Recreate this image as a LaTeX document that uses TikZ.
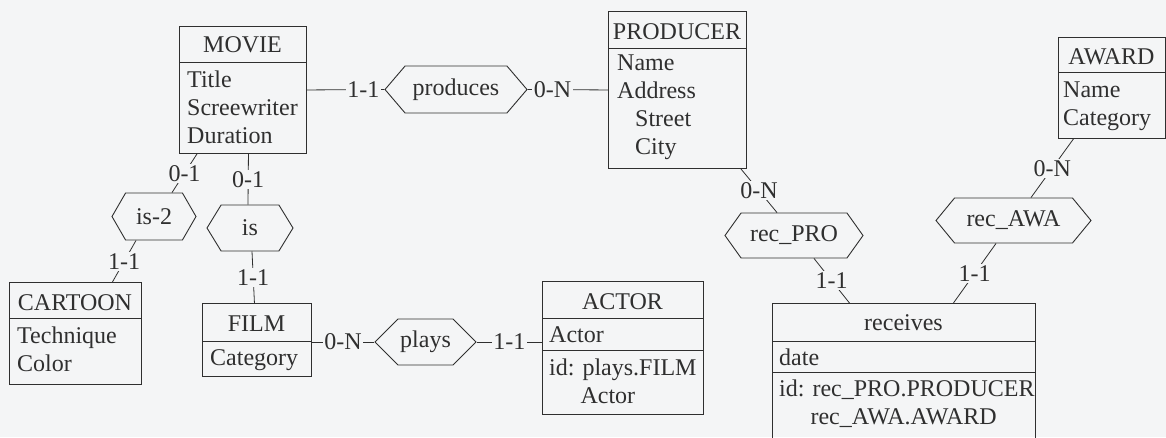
\documentclass[tikz,border=0pt]{standalone}
\usepackage{fontspec}
\setmainfont{Liberation Serif}
\usetikzlibrary{shapes.symbols}
\definecolor{ink}{HTML}{2F2F2F}
\definecolor{paper}{HTML}{F4F5F6}
\tikzset{
  entity/.style={draw=ink,line width=.9pt,anchor=north west,inner sep=0pt},
  rel/.style={draw=ink,text=ink,line width=.9pt,signal,signal to=west and east,inner sep=0pt},
  head/.style={text=ink,text height=16pt,text depth=0pt,inner sep=0pt},
  attr/.style={text=ink,align=left,anchor=north west,inner sep=0pt},
  link/.style={draw=ink,line width=.8pt},
  mult/.style={fill=paper,text=ink,inner sep=1.5pt},
}
\begin{document}
\begin{tikzpicture}[x=1pt,y=-1pt,font=\fontsize{24}{28}\selectfont]
  \useasboundingbox (0,0) rectangle (1166,437);
  \clip (0,0) rectangle (1166,437);
  \fill[paper] (0,0) rectangle (1166,437);

  % entity boxes
  \node[entity,minimum width=127pt,minimum height=127pt] (movie) at (179,26) {};
  \node[entity,minimum width=138pt,minimum height=157pt] (producer) at (608,11) {};
  \node[entity,minimum width=107pt,minimum height=101pt] (award) at (1058,37) {};
  \node[entity,minimum width=132pt,minimum height=102pt] (cartoon) at (9,282) {};
  \node[entity,minimum width=109pt,minimum height=73pt] (film) at (202,303) {};
  \node[entity,minimum width=161pt,minimum height=133pt] (actor) at (542,281) {};
  \node[entity,minimum width=263pt,minimum height=150pt] (receives) at (772,303) {};
  \foreach \e/\d in {movie/36,producer/37,award/35,cartoon/36,film/38,actor/37,actor/69,receives/38,receives/69}
    \draw[ink,line width=.9pt] ([yshift=-\d pt]\e.north west) -- ([yshift=-\d pt]\e.north east);

  \node[head] (movie-head) at (242.5,44) {MOVIE};
  \node[attr] (movie-attr) at (187,70.5) {Title\\Screewriter\\Duration};
  \node[head] (producer-head) at (677,31) {PRODUCER};
  \node[attr] (producer-attr) at (617,54.5) {Name\\Address\\\hspace*{.75em}Street\\\hspace*{.75em}City};
  \node[head] (award-head) at (1111.5,56) {AWARD};
  \node[attr] (award-attr) at (1063,81.5) {Name\\Category};
  \node[head] (cartoon-head) at (75,302) {CARTOON};
  \node[attr] (cartoon-attr) at (17,326.5) {Technique\\Color};
  \node[head] (film-head) at (256.5,323) {FILM};
  \node[attr] (film-attr) at (210,349.5) {Category};
  \node[head] (actor-head) at (622.5,301) {ACTOR};
  \node[attr] (actor-attr) at (549,326.5) {Actor};
  \node[attr] (actor-id) at (549,358.5) {id: plays.FILM\\\hphantom{id:\ }Actor};
  \node[head] (receives-head) at (903.5,322.5) {receives};
  \node[attr] (receives-attr) at (779,348.5) {date};
  \node[attr] (receives-id) at (779,379.5) {id: rec\_PRO.PRODUCER\\\hphantom{id:\ }rec\_AWA.AWARD};

  % relationship types
  \node[rel,minimum width=142pt,minimum height=47pt,signal pointer angle=99] (produces) at (456,89.5) {produces};
  \node[rel,minimum width=84pt,minimum height=47pt,signal pointer angle=120] (is2) at (154,216.5) {is-2};
  \node[rel,minimum width=86pt,minimum height=46pt,signal pointer angle=117] (is) at (250,228) {is};
  \node[rel,minimum width=101pt,minimum height=46pt,signal pointer angle=90] (plays) at (425.5,342) {plays};
  \node[rel,minimum width=138pt,minimum height=45pt,signal pointer angle=109] (recpro) at (794,235.5) {rec\_PRO};
  \node[rel,minimum width=155pt,minimum height=45pt,signal pointer angle=101] (recawa) at (1013.5,220.5) {rec\_AWA};

  % roles
  \draw[link] (movie.east) -- node[mult,pos=.73] {1-1} (produces.west);
  \draw[link] (produces.east) -- node[mult,pos=.31] {0-N} (producer.west);
  \draw[link] ([xshift=18pt]movie.south west) -- node[mult] {0-1} ([xshift=18pt]is2.north);
  \draw[link] ([xshift=5.5pt]movie.south) -- node[mult] {0-1} ([xshift=-2pt]is.north);
  \draw[link] ([xshift=-18pt]is2.south) -- node[mult] {1-1} ([xshift=37pt]cartoon.north);
  \draw[link] ([xshift=2pt]is.south) -- node[mult] {1-1} ([xshift=-2.5pt]film.north);
  \draw[link] (plays.west -| film.east) -- node[mult] {0-N} (plays.west);
  \draw[link] (plays.east) -- node[mult] {1-1} (plays.east -| actor.west);
  \draw[link] ([xshift=-6pt]producer.south east) -- node[mult] {0-N} ([xshift=-17pt]recpro.north);
  \draw[link] ([xshift=20pt]recpro.south) -- node[mult] {1-1} ([xshift=-54.5pt]receives.north);
  \draw[link] ([xshift=-38.5pt]award.south) -- node[mult] {0-N} ([xshift=17.5pt]recawa.north);
  \draw[link] ([xshift=-17.5pt]recawa.south) -- node[mult] {1-1} ([xshift=49.5pt]receives.north);
\end{tikzpicture}
\end{document}
